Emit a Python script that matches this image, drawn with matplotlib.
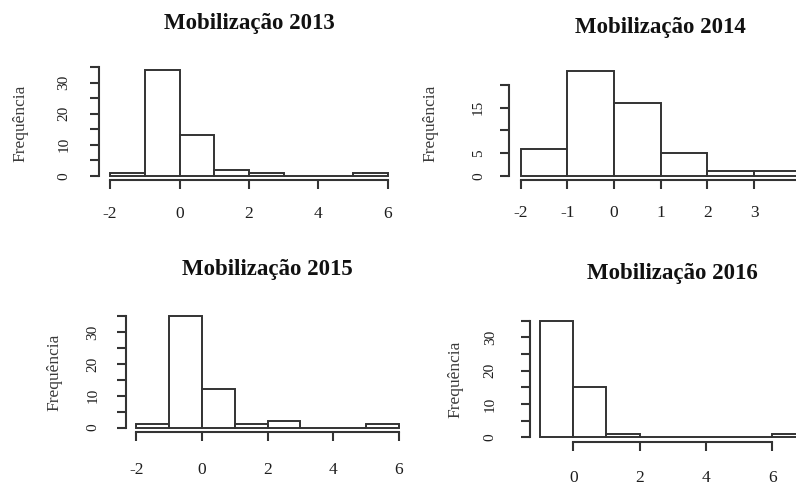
import matplotlib
matplotlib.use('Agg')
import matplotlib.pyplot as plt
from matplotlib.transforms import offset_copy

plt.rcParams['font.family'] = ['Liberation Serif', 'DejaVu Serif']

# ---------------- data ----------------
titles = ['Mobilização 2013', 'Mobilização 2014', 'Mobilização 2015', 'Mobilização 2016']
ylab = 'Frequência'

edges_2013 = [-2, -1, 0, 1, 2, 3, 4, 5, 6]
counts_2013 = [1, 34, 13, 2, 1, 0, 0, 1]
xticks_2013 = [-2, 0, 2, 4, 6]
yticks_2013 = [0, 5, 10, 15, 20, 25, 30, 35]
ytlabels_2013 = ['0', '', '10', '', '20', '', '30', '']

edges_2014 = [-2, -1, 0, 1, 2, 3, 4]
counts_2014 = [6, 23, 16, 5, 1, 1]
xticks_2014 = [-2, -1, 0, 1, 2, 3, 4]
yticks_2014 = [0, 5, 10, 15, 20]
ytlabels_2014 = ['0', '5', '', '15', '']

edges_2015 = [-2, -1, 0, 1, 2, 3, 4, 5, 6]
counts_2015 = [1, 35, 12, 1, 2, 0, 0, 1]
xticks_2015 = [-2, 0, 2, 4, 6]
yticks_2015 = [0, 5, 10, 15, 20, 25, 30, 35]
ytlabels_2015 = ['0', '', '10', '', '20', '', '30', '']

edges_2016 = [-1, 0, 1, 2, 3, 4, 5, 6, 7]
counts_2016 = [35, 15, 1, 0, 0, 0, 0, 1]
xticks_2016 = [0, 2, 4, 6]
yticks_2016 = [0, 5, 10, 15, 20, 25, 30, 35]
ytlabels_2016 = ['0', '', '10', '', '20', '', '30', '']

panels = [
    (titles[0], edges_2013, counts_2013, xticks_2013, yticks_2013, ytlabels_2013),
    (titles[1], edges_2014, counts_2014, xticks_2014, yticks_2014, ytlabels_2014),
    (titles[2], edges_2015, counts_2015, xticks_2015, yticks_2015, ytlabels_2015),
    (titles[3], edges_2016, counts_2016, xticks_2016, yticks_2016, ytlabels_2016),
]

# ---------------- layout (pixels) ----------------
W, H = 796, 484
# (left, top, right, bottom), ylabel offset, title offset, x pad(pt), y pad(pt)
layout = [
    ((99, 66, 399, 180), 79, 42, 12.3, 14.0),
    ((509.5, 67, 812, 180), 79, 40, 11.6, 11.2),
    ((126, 312, 409, 432), 72, 42, 15.0, 12.6),
    ((529.5, 316, 816, 442), 74, 42, 13.3, 17.0),
]

LC = '#333333'
TC = '#1e1e1e'

fig = plt.figure(figsize=(W / 100, H / 100), dpi=100)

for (title, edges, counts, xt, yt, ytl), (box, yloff, toff, xpad, ypad) in zip(panels, layout):
    l, t, r, b = box
    ax = fig.add_axes([l / W, 1 - b / H, (r - l) / W, (b - t) / H])
    widths = [edges[i + 1] - edges[i] for i in range(len(counts))]
    ax.bar(edges[:-1], counts, width=widths, align='edge',
           facecolor='white', edgecolor=LC, linewidth=1.4)
    lo, hi = edges[0], edges[-1]
    ymax = max(counts)
    ax.set_xlim(lo - 0.04 * (hi - lo), hi + 0.04 * (hi - lo))
    ax.set_ylim(-0.04 * ymax, 1.04 * ymax)
    for s in ('top', 'right'):
        ax.spines[s].set_visible(False)
    for s in ('left', 'bottom'):
        ax.spines[s].set_color(LC)
        ax.spines[s].set_linewidth(1.5)
    ax.spines['bottom'].set_bounds(xt[0], xt[-1])
    ax.spines['left'].set_bounds(yt[0], yt[-1])
    ax.set_xticks(xt)
    ax.set_xticklabels([str(v) for v in xt], fontsize=12.5, color=TC)
    ax.set_yticks(yt)
    ax.set_yticklabels(ytl, rotation=90, va='center', fontsize=11, color=TC)
    ax.tick_params(axis='x', direction='out', length=6.5, width=1.5, color=LC, pad=xpad)
    ax.tick_params(axis='y', direction='out', length=6.5, width=1.5, color=LC, pad=ypad)
    ax.patch.set_visible(False)

    tr = offset_copy(ax.transAxes, fig=fig, x=0, y=toff, units='dots')
    ax.text(0.5, 1.0, title, transform=tr, ha='center', va='center',
            fontsize=16.5, fontweight='bold', color='#111111')
    tr2 = offset_copy(ax.transAxes, fig=fig, x=-yloff, y=0, units='dots')
    ax.text(0.0, 0.5, ylab, transform=tr2, ha='center', va='center',
            rotation=90, fontsize=12.5, color='#3a3a3a')

fig.savefig('out.png', dpi=100)
